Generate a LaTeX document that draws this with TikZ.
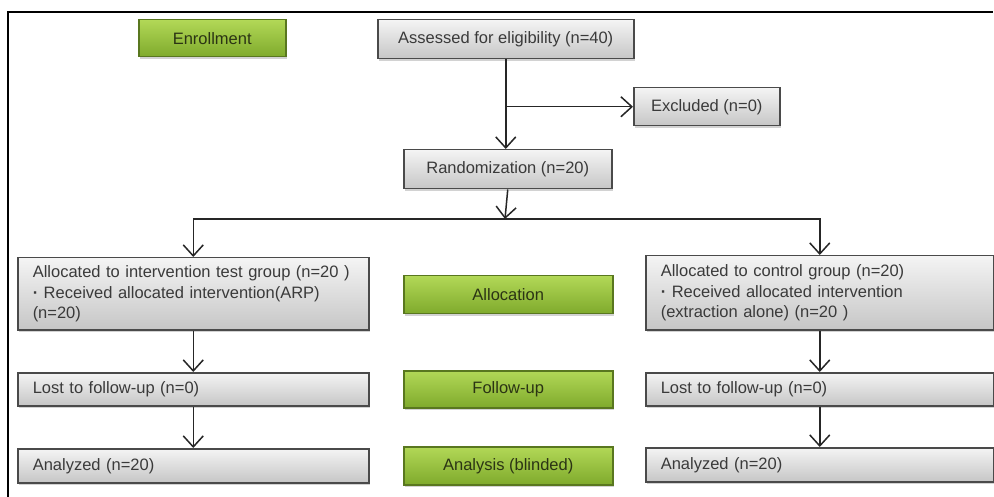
\documentclass[tikz,border=0pt]{standalone}
\usepackage{fontspec}
\setmainfont{Liberation Sans}
\usetikzlibrary{arrows.meta,shadows}
\definecolor{boxline}{HTML}{4A4A4A}
\definecolor{graytop}{HTML}{F4F4F4}
\definecolor{graybot}{HTML}{C6C6C6}
\definecolor{greentop}{HTML}{B2D857}
\definecolor{greenbot}{HTML}{7FAA2C}
\definecolor{greentext}{HTML}{2B3414}
\definecolor{graytext}{HTML}{3A3A3A}
\tikzset{
  base/.style={draw=boxline, line width=1.5pt, inner ysep=0pt,
    font=\fontsize{16.5}{20.5}\selectfont,
    drop shadow={shadow xshift=1.5pt, shadow yshift=-2.5pt, opacity=0.35}},
  graybox/.style={base, top color=graytop, bottom color=graybot, text=graytext},
  greenbox/.style={base, draw=greenbot!70!black, top color=greentop, bottom color=greenbot, text=greentext},
  leftbox/.style={graybox, anchor=north west, inner xsep=15pt, align=left,
    text width=321pt, minimum width=351pt},
  rightbox/.style={graybox, anchor=north west, inner xsep=15pt, align=left,
    text width=318pt, minimum width=348pt},
  conn/.style={line width=1.5pt, draw=black!85},
  arr/.style={conn, -{Straight Barb[length=11pt,width=20pt,line width=1.5pt]}}
}
\begin{document}
\begin{tikzpicture}[x=1pt,y=-1pt]
\useasboundingbox (0,0) rectangle (994,497);
\fill[white] (0,0) rectangle (994,497);
% frame
\draw[line width=2pt, black] (8,497) -- (8,12) -- (993,12);

% phase labels
\node[greenbox, anchor=north west, minimum width=147pt, minimum height=37pt] (enroll) at (138,19) {Enrollment};
\node[greenbox, anchor=north west, minimum width=209pt, minimum height=38pt] (allocation) at (403,275) {Allocation};
\node[greenbox, anchor=north west, minimum width=209pt, minimum height=37pt] (followup) at (403,370) {Follow-up};
\node[greenbox, anchor=north west, minimum width=209pt, minimum height=38pt] (analysis) at (403,446) {Analysis (blinded)};

% main flow
\node[graybox, anchor=north west, minimum width=256pt, minimum height=39pt] (assess) at (377,19) {Assessed for eligibility (n=40)};
\node[graybox, anchor=north west, minimum width=146pt, minimum height=38pt] (excl) at (633,87) {Excluded (n=0)};
\node[graybox, anchor=north west, minimum width=208pt, minimum height=39pt] (rand) at (403,149) {Randomization (n=20)};

\node[leftbox, minimum height=72pt] (allocL) at (17,257)
  {Allocated to intervention test group (n=20 )\\
   \textbf{\textperiodcentered} Received allocated intervention(ARP)\\
   (n=20)};
\node[rightbox, minimum height=74pt] (allocR) at (645,255)
  {Allocated to control group (n=20)\\
   \textbf{\textperiodcentered} Received allocated intervention\\
   (extraction alone) (n=20 )};

\node[leftbox, minimum height=33pt] (lostL) at (17,372) {Lost to follow-up (n=0)};
\node[rightbox, minimum height=33pt] (lostR) at (645,372) {Lost to follow-up (n=0)};
\node[leftbox, minimum height=34pt] (anaL) at (17,448) {Analyzed (n=20)};
\node[rightbox, minimum height=34pt] (anaR) at (645,447) {Analyzed (n=20)};

% connectors
\coordinate (branch) at (assess.south |- excl.west);
\coordinate (split) at (505,219);
\draw[arr] (assess.south) -- (assess.south |- rand.north);
\draw[arr] (branch) -- (excl.west);
\draw[arr] (rand.south) -- (split);
\draw[arr] (split) -| (allocL.north);
\draw[arr] (split) -| (allocR.north);
\draw[arr] (allocL.south) -- (lostL.north);
\draw[arr] (allocR.south) -- (lostR.north);
\draw[arr] (lostL.south) -- (anaL.north);
\draw[arr] (lostR.south) -- (anaR.north);
\end{tikzpicture}
\end{document}
